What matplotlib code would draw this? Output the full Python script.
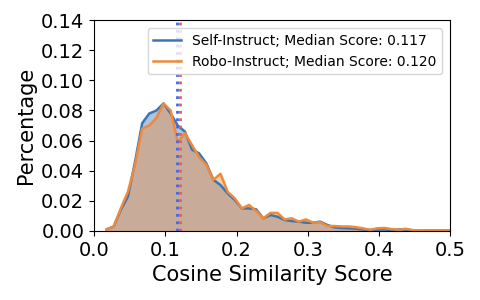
import numpy as np
import matplotlib
matplotlib.use("Agg")
import matplotlib.pyplot as plt

# bin centres of the cosine-similarity histogram
x = np.arange(49) * 0.01 + 0.0175

self_instruct = [0.001, 0.003, 0.014, 0.0228, 0.046, 0.0715, 0.078, 0.080, 0.0847, 0.078,
                 0.070, 0.066, 0.054, 0.0515, 0.045, 0.034, 0.0305, 0.025, 0.0206, 0.015,
                 0.015, 0.0144, 0.0084, 0.0106, 0.0095, 0.0073, 0.0066, 0.0062, 0.0055, 0.0055,
                 0.0062, 0.004, 0.0024, 0.002, 0.0018, 0.0015, 0.001, 0.0007, 0.0009, 0.001,
                 0.0007, 0.001, 0.001, 0.0005, 0.0005, 0.0004, 0.0004, 0.0004, 0.0004]
robo_instruct = [0.001, 0.003, 0.015, 0.026, 0.044, 0.068, 0.070, 0.075, 0.0847, 0.080,
                 0.059, 0.065, 0.057, 0.049, 0.044, 0.034, 0.038, 0.026, 0.0217, 0.015,
                 0.0173, 0.0133, 0.0084, 0.012, 0.012, 0.0077, 0.0084, 0.0062, 0.0077, 0.0055,
                 0.0058, 0.0033, 0.0033, 0.003, 0.003, 0.0025, 0.0018, 0.0007, 0.0018, 0.002,
                 0.0013, 0.0007, 0.0015, 0.0005, 0.0005, 0.0004, 0.0004, 0.0004, 0.0004]
medians = {"Self-Instruct": 0.117, "Robo-Instruct": 0.120}

BLUE = "#3a76b3"
ORANGE = "#f0893a"

fig, ax = plt.subplots(figsize=(4.8, 3.0), dpi=100)
fig.subplots_adjust(left=0.196, right=0.938, top=0.933, bottom=0.23)

ax.plot(x, self_instruct, color=BLUE, lw=1.8,
        label=f"Self-Instruct; Median Score: {medians['Self-Instruct']:.3f}")
ax.fill_between(x, self_instruct, color=BLUE, alpha=0.42, lw=0)
ax.plot(x, robo_instruct, color=ORANGE, lw=1.8,
        label=f"Robo-Instruct; Median Score: {medians['Robo-Instruct']:.3f}")
ax.fill_between(x, robo_instruct, color=ORANGE, alpha=0.42, lw=0)

ax.axvline(medians["Self-Instruct"], color="#4466ee", ls=":", lw=2)
ax.axvline(medians["Robo-Instruct"], color="#f05a4a", ls=":", lw=2)

ax.set_xlim(0, 0.5)
ax.set_ylim(0, 0.14)
ax.set_xticks(np.arange(0, 0.51, 0.1))
ax.set_yticks(np.arange(0, 0.141, 0.02))
ax.tick_params(labelsize=14)
ax.set_xlabel("Cosine Similarity Score", fontsize=15)
ax.set_ylabel("Percentage", fontsize=15)
ax.legend(loc="upper right", fontsize=10, handlelength=2, borderaxespad=0.6)

plt.savefig("out.png", dpi=100)
plt.close()
